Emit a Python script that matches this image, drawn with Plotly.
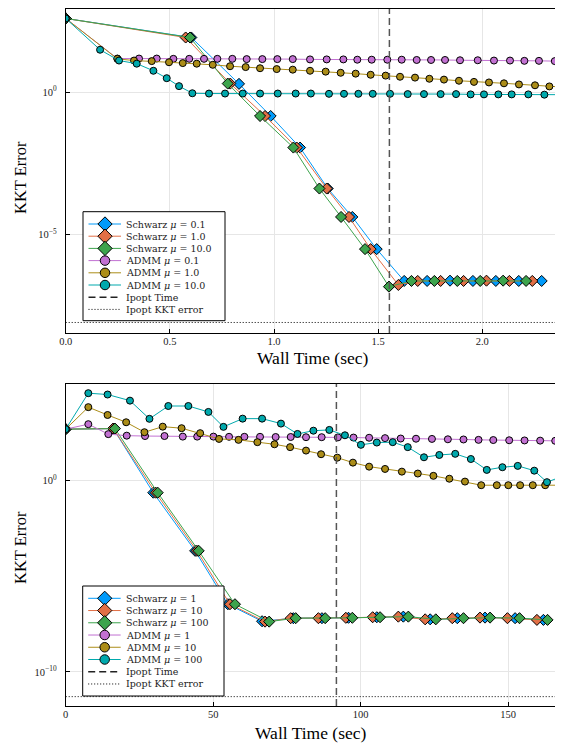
import numpy as np
import plotly.graph_objects as go

# The page body has an 8px margin, so the figure is laid out 8px smaller and
# all reference pixel positions below are shifted by OFF.
OFF = 8
W, H = 563 - OFF, 743 - OFF
FONT = "Liberation Serif"
LEG_FONT = "DejaVu Serif"

# ---------------- Top panel data (time in sec, KKT error as log10) ----------------
top_sch01_t = [0.0, 0.603, 0.832, 0.984, 1.125, 1.258, 1.376, 1.493, 1.625, 1.735, 1.845, 1.955, 2.065, 2.175, 2.285]
top_sch01_lg = [2.59, 1.92, 0.29, -0.84, -1.95, -3.39, -4.39, -5.52, -6.64, -6.64, -6.63, -6.64, -6.64, -6.64, -6.64]
top_sch1_t = [0.0, 0.576, 0.790, 0.957, 1.109, 1.253, 1.360, 1.464, 1.597, 1.69, 1.80, 1.91, 2.02, 2.13, 2.24]
top_sch1_lg = [2.59, 1.92, 0.30, -0.84, -1.95, -3.39, -4.39, -5.52, -6.78, -6.64, -6.64, -6.64, -6.63, -6.64, -6.64]
top_sch10_t = [0.0, 0.597, 0.778, 0.933, 1.093, 1.218, 1.322, 1.437, 1.552, 1.66, 1.77, 1.88, 1.99, 2.10, 2.21]
top_sch10_lg = [2.59, 1.92, 0.30, -0.84, -1.95, -3.39, -4.39, -5.52, -6.84, -6.64, -6.64, -6.64, -6.64, -6.63, -6.64]

top_admm01_t = [0.0, 0.248, 0.352, 0.437, 0.517, 0.593, 0.664, 0.728, 0.800, 0.869, 0.944, 1.016, 1.090,
                1.173, 1.253, 1.333, 1.400, 1.469, 1.544, 1.613, 1.685, 1.754, 1.821, 1.893, 1.978, 2.056,
                2.133, 2.202, 2.272, 2.348]
top_admm01_lg = [2.59, 1.18, 1.18, 1.18, 1.17, 1.17, 1.17, 1.17, 1.17, 1.16, 1.16, 1.16, 1.16,
                 1.15, 1.15, 1.15, 1.14, 1.14, 1.14, 1.14, 1.13, 1.13, 1.13, 1.12, 1.12, 1.11,
                 1.11, 1.10, 1.10, 1.09]
top_admm1_t = [0.0, 0.248, 0.328, 0.413, 0.496, 0.562, 0.629, 0.706, 0.789, 0.864, 0.933, 1.013, 1.090,
               1.173, 1.248, 1.320, 1.392, 1.464, 1.536, 1.605, 1.677, 1.746, 1.816, 1.888, 1.960, 2.032,
               2.104, 2.176, 2.253, 2.322, 2.400]
top_admm1_lg = [2.59, 1.17, 1.11, 1.09, 1.05, 1.02, 1.00, 0.96, 0.91, 0.88, 0.84, 0.81, 0.79,
                0.75, 0.72, 0.68, 0.65, 0.61, 0.58, 0.54, 0.51, 0.47, 0.44, 0.40, 0.36, 0.34,
                0.31, 0.27, 0.24, 0.20, 0.17]
top_admm10_t = [0.0, 0.165, 0.256, 0.341, 0.421, 0.485, 0.544, 0.608, 0.688, 0.765, 0.850, 0.933, 1.018,
                1.104, 1.177, 1.264, 1.336, 1.405, 1.474, 1.557, 1.642, 1.720, 1.800, 1.874, 1.944, 2.008,
                2.077, 2.141, 2.221, 2.298, 2.373]
top_admm10_lg = [2.59, 1.49, 1.11, 1.00, 0.75, 0.49, 0.21, -0.04, -0.05, -0.05, -0.05, -0.05, -0.05,
                 -0.05, -0.05, -0.06, -0.06, -0.06, -0.06, -0.06, -0.07, -0.07, -0.07, -0.07, -0.08, -0.08,
                 -0.08, -0.08, -0.08, -0.09, -0.09]
top_ipopt_time = 1.554
top_ipopt_kkt_lg = -8.10

# ---------------- Bottom panel data ----------------
bot_sch1_t = [0.0, 16.1, 29.7, 43.9, 55.0, 66.6, 77.2, 86.9, 95.9, 105.5, 114.5, 123.6, 132.8, 142.2, 152.4, 162.0]
bot_sch1_lg = [2.69, 2.72, -0.63, -3.67, -6.46, -7.35, -7.19, -7.19, -7.17, -7.14, -7.11, -7.25, -7.19, -7.16, -7.19, -7.28]
bot_sch10_t = [0.0, 16.1, 30.5, 44.5, 55.7, 67.6, 76.3, 85.7, 95.0, 104.1, 112.8, 121.9, 131.1, 140.5, 149.8, 159.8]
bot_sch10_lg = [2.69, 2.72, -0.63, -3.67, -6.46, -7.37, -7.19, -7.19, -7.17, -7.14, -7.11, -7.25, -7.19, -7.16, -7.19, -7.28]
bot_sch100_t = [0.0, 16.7, 31.2, 45.1, 57.4, 69.0, 78.0, 88.0, 97.2, 106.6, 116.2, 125.5, 134.9, 143.9, 153.9, 163.4]
bot_sch100_lg = [2.69, 2.72, -0.63, -3.67, -6.46, -7.37, -7.19, -7.19, -7.17, -7.14, -7.11, -7.25, -7.19, -7.16, -7.19, -7.28]

bot_admm1_t = [0.0, 7.67, 14.45, 20.7, 26.9, 33.5, 39.7, 44.6, 50.1, 55.4, 60.6, 65.9, 71.2, 76.3, 81.5, 86.8,
               92.3, 97.6, 102.9, 108.3, 113.6, 118.8, 124.2, 129.6, 134.9, 140.0, 145.0, 150.4, 155.6, 160.9, 166.0]
bot_admm1_lg = [2.69, 2.95, 2.43, 2.35, 2.33, 2.33, 2.30, 2.30, 2.30, 2.29, 2.29, 2.29, 2.28, 2.28, 2.27, 2.27,
                2.26, 2.25, 2.24, 2.22, 2.20, 2.19, 2.18, 2.16, 2.15, 2.13, 2.12, 2.11, 2.10, 2.09, 2.08]
bot_admm10_t = [0.0, 7.67, 14.2, 20.5, 26.7, 32.9, 39.3, 45.6, 52.0, 58.6, 65.0, 70.8, 76.1, 81.5, 86.6, 92.1,
                97.4, 102.9, 108.3, 114.0, 119.4, 124.7, 130.1, 135.4, 140.9, 146.2, 150.1, 154.1, 158.4, 162.6, 167.5]
bot_admm10_lg = [2.69, 3.84, 3.43, 3.05, 2.53, 2.82, 2.74, 2.48, 2.18, 2.13, 2.01, 1.90, 1.75, 1.57, 1.38, 1.20,
                 0.94, 0.73, 0.61, 0.47, 0.37, 0.25, 0.10, -0.05, -0.24, -0.24, -0.24, -0.24, -0.24, -0.24, -0.24]
bot_admm100_t = [0.0, 7.67, 14.2, 21.8, 28.4, 34.8, 41.6, 48.4, 53.5, 60.0, 66.6, 73.0, 78.6, 84.0, 89.4, 94.7,
                 100.1, 105.5, 110.9, 116.0, 121.5, 126.7, 132.1, 137.4, 142.8, 148.1, 153.3, 158.9, 163.2, 168.0]
bot_admm100_lg = [2.69, 4.57, 4.50, 4.18, 3.23, 3.90, 3.90, 3.59, 2.81, 3.24, 3.24, 2.98, 2.44, 2.61, 2.65, 2.37,
                  1.87, 1.99, 2.01, 1.75, 1.22, 1.34, 1.40, 1.13, 0.56, 0.70, 0.77, 0.52, -0.08, 0.20]
bot_ipopt_time = 91.8
bot_ipopt_kkt_lg = -11.29

top_labels = ["Schwarz <i>μ</i> = 0.1", "Schwarz <i>μ</i> = 1.0", "Schwarz <i>μ</i> = 10.0",
              "ADMM <i>μ</i> = 0.1", "ADMM <i>μ</i> = 1.0", "ADMM <i>μ</i> = 10.0",
              "Ipopt Time", "Ipopt KKT error"]
bot_labels = ["Schwarz <i>μ</i> = 1", "Schwarz <i>μ</i> = 10", "Schwarz <i>μ</i> = 100",
              "ADMM <i>μ</i> = 1", "ADMM <i>μ</i> = 10", "ADMM <i>μ</i> = 100",
              "Ipopt Time", "Ipopt KKT error"]

top_xticks = [0.0, 0.5, 1.0, 1.5, 2.0]
top_xticklabels = ["0.0", "0.5", "1.0", "1.5", "2.0"]
top_yticks = [1.0, 1e-5]
top_yticklabels = ["10<sup>0</sup>", "10<sup>−5</sup>"]
bot_xticks = [0, 50, 100, 150]
bot_xticklabels = ["0", "50", "100", "150"]
bot_yticks = [1.0, 1e-10]
bot_yticklabels = ["10<sup>0</sup>", "10<sup>−10</sup>"]

# ---------------- styling ----------------
COLORS = ["#009AFA", "#E26F46", "#3DA44D", "#C271D2", "#AC8D18", "#00A9AD"]
SYMBOLS = ["diamond"] * 3 + ["circle"] * 3
SIZES = [8.5] * 3 + [7] * 3
TOP_XR = [0.0, 2.373]
TOP_YR = [-8.47, 2.94]
BOT_XR = [0.0, 166.1]
BOT_YR = [-11.78, 5.05]

fig = go.Figure()


def add_series(t, lg, i, xa, ya):
    fig.add_trace(go.Scatter(
        x=t, y=np.power(10.0, np.array(lg)), mode="lines+markers",
        line=dict(color=COLORS[i], width=1),
        marker=dict(symbol=SYMBOLS[i], size=SIZES[i], color=COLORS[i],
                    line=dict(color="black", width=1)),
        xaxis=xa, yaxis=ya, showlegend=False, hoverinfo="skip"))


def add_ipopt(tm, kkt_lg, xr, yr, xa, ya):
    fig.add_trace(go.Scatter(
        x=[tm, tm], y=[10.0 ** yr[0], 10.0 ** yr[1]], mode="lines",
        line=dict(color="#555555", width=1.5, dash="7px,4px"),
        xaxis=xa, yaxis=ya, showlegend=False, hoverinfo="skip"))
    fig.add_trace(go.Scatter(
        x=xr, y=[10.0 ** kkt_lg] * 2, mode="lines",
        line=dict(color="black", width=1, dash="1px,2px"),
        xaxis=xa, yaxis=ya, showlegend=False, hoverinfo="skip"))


top_series = [(top_sch01_t, top_sch01_lg), (top_sch1_t, top_sch1_lg), (top_sch10_t, top_sch10_lg),
              (top_admm01_t, top_admm01_lg), (top_admm1_t, top_admm1_lg), (top_admm10_t, top_admm10_lg)]
bot_series = [(bot_sch1_t, bot_sch1_lg), (bot_sch10_t, bot_sch10_lg), (bot_sch100_t, bot_sch100_lg),
              (bot_admm1_t, bot_admm1_lg), (bot_admm10_t, bot_admm10_lg), (bot_admm100_t, bot_admm100_lg)]

for i, (t, lg) in enumerate(top_series):
    add_series(t, lg, i, "x", "y")
add_ipopt(top_ipopt_time, top_ipopt_kkt_lg, TOP_XR, TOP_YR, "x", "y")
for i, (t, lg) in enumerate(bot_series):
    add_series(t, lg, i, "x2", "y2")
add_ipopt(bot_ipopt_time, bot_ipopt_kkt_lg, BOT_XR, BOT_YR, "x2", "y2")

# ---------------- manual legends (overlay axis in page pixels) ----------------
annotations = []


def draw_legend(box, labels, row0, drow):
    x0, y0, x1, y1 = box
    fig.add_trace(go.Scatter(x=[x0, x1, x1, x0, x0], y=[y0, y0, y1, y1, y0], mode="lines",
                             fill="toself", fillcolor="white", line=dict(color="black", width=1),
                             xaxis="x3", yaxis="y3", showlegend=False, hoverinfo="skip"))
    lx0, lx1, mx, tx = x0 + 5.5, x0 + 38, x0 + 22, x0 + 42
    for k, lab in enumerate(labels):
        yy = row0 + k * drow
        if k < 6:
            fig.add_trace(go.Scatter(x=[lx0, lx1], y=[yy, yy], mode="lines",
                                     line=dict(color=COLORS[k], width=1),
                                     xaxis="x3", yaxis="y3", showlegend=False, hoverinfo="skip"))
            fig.add_trace(go.Scatter(x=[mx], y=[yy], mode="markers",
                                     marker=dict(symbol=SYMBOLS[k], size=11 if k < 3 else 9.5,
                                                 color=COLORS[k], line=dict(color="black", width=1)),
                                     xaxis="x3", yaxis="y3", showlegend=False, hoverinfo="skip"))
        elif k == 6:
            fig.add_trace(go.Scatter(x=[lx0, lx1], y=[yy, yy], mode="lines",
                                     line=dict(color="#222222", width=1.5, dash="7px,4px"),
                                     xaxis="x3", yaxis="y3", showlegend=False, hoverinfo="skip"))
        else:
            fig.add_trace(go.Scatter(x=[lx0, lx1], y=[yy, yy], mode="lines",
                                     line=dict(color="black", width=1, dash="1px,2px"),
                                     xaxis="x3", yaxis="y3", showlegend=False, hoverinfo="skip"))
        annotations.append(dict(x=tx, y=yy, xref="x3", yref="y3", text=lab, showarrow=False,
                                xanchor="left", yanchor="middle", borderpad=0,
                                font=dict(family=LEG_FONT, size=9.5, color="#222222")))


draw_legend((83, 211.7, 225, 320.7), top_labels, 224.0, 12.2)
draw_legend((82.7, 586, 224, 696), bot_labels, 598.3, 12.24)

# axis titles
xt_font = dict(family=FONT, size=17.5, color="black")
yt_font = dict(family=FONT, size=16.5, color="black")
annotations += [
    dict(x=313, y=358, xref="x3", yref="y3", text="Wall Time (sec)", showarrow=False, font=xt_font),
    dict(x=311, y=733, xref="x3", yref="y3", text="Wall Time (sec)", showarrow=False, font=xt_font),
    dict(x=20, y=178, xref="x3", yref="y3", text="KKT Error", showarrow=False, textangle=-90, font=yt_font),
    dict(x=20, y=548, xref="x3", yref="y3", text="KKT Error", showarrow=False, textangle=-90, font=yt_font),
]

tick_font = dict(family=FONT, size=10.5, color="#222222")
common_x = dict(showgrid=True, gridcolor="#e6e6e6", gridwidth=1, zeroline=False,
                showline=True, linecolor="black", linewidth=1, mirror=True,
                ticks="inside", ticklen=4, tickcolor="black", tickfont=tick_font,
                tickmode="array", fixedrange=True, automargin=False)
common_y = dict(common_x)
common_y["type"] = "log"


def xdom(a, b):
    return [(a - OFF) / W, (b - OFF) / W]


def ydom(top, bottom):
    return [1 - (bottom - OFF) / H, 1 - (top - OFF) / H]


fig.update_layout(
    width=W, height=H,
    margin=dict(l=0, r=0, t=0, b=0),
    paper_bgcolor="white", plot_bgcolor="rgba(0,0,0,0)",
    showlegend=False,
    xaxis=dict(common_x, domain=xdom(65.7, 560), anchor="y", range=TOP_XR,
               tickvals=top_xticks, ticktext=top_xticklabels, ticklabelstandoff=-2),
    yaxis=dict(common_y, domain=ydom(8.5, 333), anchor="x", range=TOP_YR,
               tickvals=top_yticks, ticktext=top_yticklabels, ticklabelstandoff=6),
    xaxis2=dict(common_x, domain=xdom(65.7, 555.5), anchor="y2", range=BOT_XR,
                tickvals=bot_xticks, ticktext=bot_xticklabels, ticklabelstandoff=-2),
    yaxis2=dict(common_y, domain=ydom(384, 706), anchor="x2", range=BOT_YR,
                tickvals=bot_yticks, ticktext=bot_yticklabels, ticklabelstandoff=6),
    xaxis3=dict(domain=[0, 1], range=[OFF, W + OFF], visible=False, anchor="y3", fixedrange=True),
    yaxis3=dict(domain=[0, 1], range=[H + OFF, OFF], visible=False, anchor="x3", fixedrange=True),
    annotations=annotations,
)

fig.write_html("out.html")
